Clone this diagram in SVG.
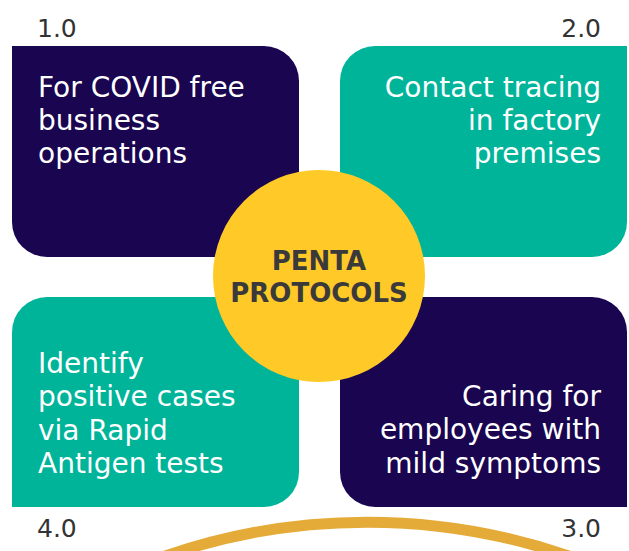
<svg xmlns="http://www.w3.org/2000/svg" width="629" height="551" viewBox="0 0 629 551">
  <style>
    .navy { fill: #1a0550; }
    .teal { fill: #00b49a; }
    .label { font-family: "DejaVu Sans", "Liberation Sans", sans-serif; font-size: 28px; fill: #ffffff; }
    .num { font-family: "DejaVu Sans", "Liberation Sans", sans-serif; font-size: 25px; fill: #333333; }
    .hub { font-family: "DejaVu Sans", "Liberation Sans", sans-serif; font-size: 26px; font-weight: bold; fill: #3a3a3a; }
    .end { text-anchor: end; }
  </style>
  <rect width="629" height="551" fill="#ffffff"/>

  <!-- decorative arc along the bottom -->
  <path d="M154 560 A618 618 0 0 1 580 560" fill="none" stroke="#e5ab38" stroke-width="11"/>

  <g id="node-1">
    <text class="num" x="37" y="37">1.0</text>
    <path class="navy" d="M12 46 H264 A35 35 0 0 1 299 81 V257 H47 A35 35 0 0 1 12 222 Z"/>
    <text class="label" x="38" y="97">For COVID free</text>
    <text class="label" x="38" y="130">business</text>
    <text class="label" x="38" y="163">operations</text>
  </g>

  <g id="node-2">
    <text class="num end" x="601" y="37">2.0</text>
    <path class="teal" d="M375 46 H627 V222 A35 35 0 0 1 592 257 H340 V81 A35 35 0 0 1 375 46 Z"/>
    <text class="label end" x="601" y="97">Contact tracing</text>
    <text class="label end" x="601" y="130">in factory</text>
    <text class="label end" x="601" y="163">premises</text>
  </g>

  <g id="node-4">
    <text class="num" x="37" y="537">4.0</text>
    <path class="teal" d="M47 297 H299 V472 A35 35 0 0 1 264 507 H12 V332 A35 35 0 0 1 47 297 Z"/>
    <text class="label" x="38" y="373">Identify</text>
    <text class="label" x="38" y="406">positive cases</text>
    <text class="label" x="38" y="440">via Rapid</text>
    <text class="label" x="38" y="473">Antigen tests</text>
  </g>

  <g id="node-3">
    <text class="num end" x="601" y="537">3.0</text>
    <path class="navy" d="M340 297 H592 A35 35 0 0 1 627 332 V507 H375 A35 35 0 0 1 340 472 Z"/>
    <text class="label end" x="601" y="406">Caring for</text>
    <text class="label end" x="601" y="439">employees with</text>
    <text class="label end" x="601" y="473">mild symptoms</text>
  </g>

  <g id="hub">
    <circle cx="319" cy="276" r="106" fill="#ffca28"/>
    <text class="hub" x="319" y="270" text-anchor="middle">PENTA</text>
    <text class="hub" x="319" y="302" text-anchor="middle">PROTOCOLS</text>
  </g>

  <g id="connectors"></g>
</svg>
